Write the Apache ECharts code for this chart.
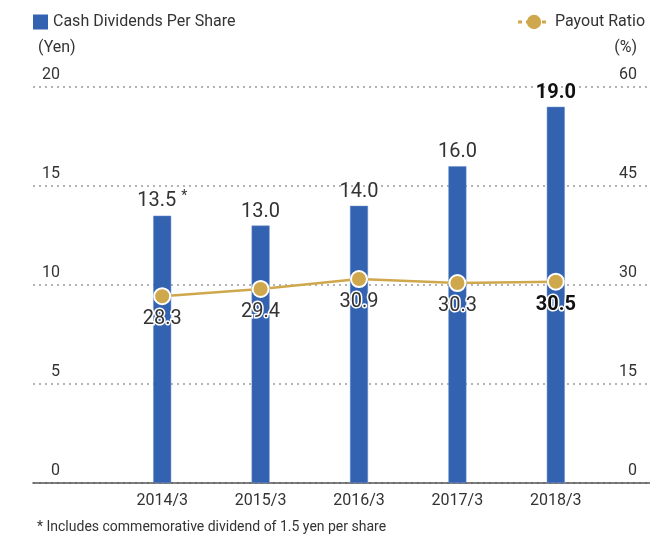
<!DOCTYPE html>
<html>
<head>
<meta charset="utf-8">
<script src="https://cdn.jsdelivr.net/npm/echarts@6/dist/echarts.min.js"></script>
<style>
  html, body { margin: 0; padding: 0; background: #fff; }
  #chart { width: 650px; height: 538px; }
</style>
</head>
<body>
<div id="chart"></div>
<script>
var categories = ['2014/3', '2015/3', '2016/3', '2017/3', '2018/3'];
var dividends = [13.5, 13.0, 14.0, 16.0, 19.0];
var payoutRatio = [28.3, 29.4, 30.9, 30.3, 30.5];
var yenTicks = { min: 0, max: 20, interval: 5 };
var pctTicks = { min: 0, max: 60, interval: 15 };

var FONT = '"Roboto", sans-serif';
var BLUE = '#3362b0';
var GOLD = '#cfa74c';
var last = dividends.length - 1;

function fmt(v) {
  return Number(v).toFixed(1);
}

// the last year is printed in bold
var barData = dividends.map(function (v, i) {
  if (i === last) {
    return { value: v, label: { fontWeight: 'bold', color: '#111' } };
  }
  return v;
});

var lineData = payoutRatio.map(function (v, i) {
  if (i === last) {
    return { value: v, label: { fontWeight: 'bold', color: '#111' } };
  }
  return v;
});

var chart = echarts.init(document.getElementById('chart'), null, { renderer: 'canvas' });

var option = {
  animation: false,
  textStyle: { fontFamily: FONT },
  title: {
    text: '* Includes commemorative dividend of 1.5 yen per share',
    left: 37,
    top: 520,
    padding: 0,
    textStyle: { fontFamily: FONT, fontSize: 14, fontWeight: 'normal', color: '#333' }
  },
  legend: [
    {
      data: ['Cash Dividends Per Share'],
      left: 33,
      top: 14,
      padding: 0,
      itemWidth: 15,
      itemHeight: 15,
      itemGap: 4,
      icon: 'rect',
      itemStyle: { borderWidth: 0 },
      textStyle: { fontFamily: FONT, fontSize: 16, color: '#333' }
    },
    {
      data: ['Payout Ratio'],
      right: 5,
      top: 14,
      padding: 0,
      itemWidth: 32,
      itemHeight: 18,
      itemGap: 4,
      lineStyle: { type: [4, 4], width: 3 },
      itemStyle: { borderWidth: 0 },
      textStyle: { fontFamily: FONT, fontSize: 16, color: '#333' }
    }
  ],
  grid: [
    { left: 113, right: 45, top: 87, bottom: 55 },
    { left: 33, right: 0, top: 87, bottom: 55 }
  ],
  xAxis: [
    {
      type: 'category',
      gridIndex: 0,
      data: categories,
      axisLine: { show: false },
      axisTick: { show: false },
      axisLabel: { fontFamily: FONT, fontSize: 16, color: '#333', margin: 10 }
    },
    {
      type: 'value',
      gridIndex: 1,
      min: 0,
      max: 1,
      axisLine: { show: true, lineStyle: { color: '#555', width: 1.5 } },
      axisTick: { show: false },
      axisLabel: { show: false },
      splitLine: { show: false }
    }
  ],
  yAxis: [
    {
      type: 'value', gridIndex: 0, position: 'left',
      min: yenTicks.min, max: yenTicks.max, interval: yenTicks.interval,
      show: false, splitLine: { show: false }
    },
    {
      type: 'value', gridIndex: 0, position: 'right',
      min: pctTicks.min, max: pctTicks.max, interval: pctTicks.interval,
      show: false, splitLine: { show: false }
    },
    {
      type: 'value', gridIndex: 1, position: 'left',
      min: yenTicks.min, max: yenTicks.max, interval: yenTicks.interval,
      name: '(Yen)',
      nameLocation: 'end',
      nameGap: 39,
      nameTextStyle: { fontFamily: FONT, fontSize: 16, color: '#333', align: 'left', verticalAlign: 'middle', padding: [0, 0, 0, 5] },
      axisLine: { show: false },
      axisTick: { show: false },
      axisLabel: {
        inside: true, margin: 27, align: 'right', verticalAlign: 'bottom',
        padding: [0, 0, 4, 0],
        fontFamily: FONT, fontSize: 16, color: '#333'
      },
      splitLine: { show: true, lineStyle: { color: '#9a9a9a', type: [2, 4], width: 1.5 } }
    },
    {
      type: 'value', gridIndex: 1, position: 'right',
      min: pctTicks.min, max: pctTicks.max, interval: pctTicks.interval,
      name: '(%)',
      nameLocation: 'end',
      nameGap: 39,
      nameTextStyle: { fontFamily: FONT, fontSize: 16, color: '#333', align: 'right', verticalAlign: 'middle', padding: [0, 13, 0, 0] },
      axisLine: { show: false },
      axisTick: { show: false },
      axisLabel: {
        inside: true, margin: 13, align: 'right', verticalAlign: 'bottom',
        padding: [0, 0, 4, 0],
        fontFamily: FONT, fontSize: 16, color: '#333'
      },
      splitLine: { show: false }
    }
  ],
  series: [
    {
      name: 'Cash Dividends Per Share',
      type: 'bar',
      xAxisIndex: 0,
      yAxisIndex: 0,
      barWidth: 18,
      itemStyle: { color: BLUE, borderColor: '#6f8fcc', borderWidth: 0.5 },
      data: barData,
      label: {
        show: true,
        position: 'top',
        distance: 4,
        fontFamily: FONT,
        fontSize: 20,
        color: '#333',
        formatter: function (p) {
          return p.dataIndex === 0 ? fmt(p.value) + ' {s|*}' : fmt(p.value);
        },
        rich: {
          s: { fontFamily: FONT, fontSize: 14, color: '#333', verticalAlign: 'top', padding: [0, 0, 8, 0] }
        }
      },
      z: 2
    },
    {
      name: 'Payout Ratio',
      type: 'line',
      xAxisIndex: 0,
      yAxisIndex: 1,
      data: lineData,
      symbol: 'circle',
      symbolSize: 16,
      lineStyle: { color: GOLD, width: 2.5 },
      itemStyle: { color: GOLD, borderColor: '#fff', borderWidth: 2 },
      label: {
        show: true,
        position: 'bottom',
        distance: 4,
        fontFamily: FONT,
        fontSize: 20,
        color: '#333',
        textBorderColor: '#fff',
        textBorderWidth: 3,
        formatter: function (p) { return fmt(p.value); }
      },
      z: 3
    }
  ]
};

chart.setOption(option);
</script>
</body>
</html>
